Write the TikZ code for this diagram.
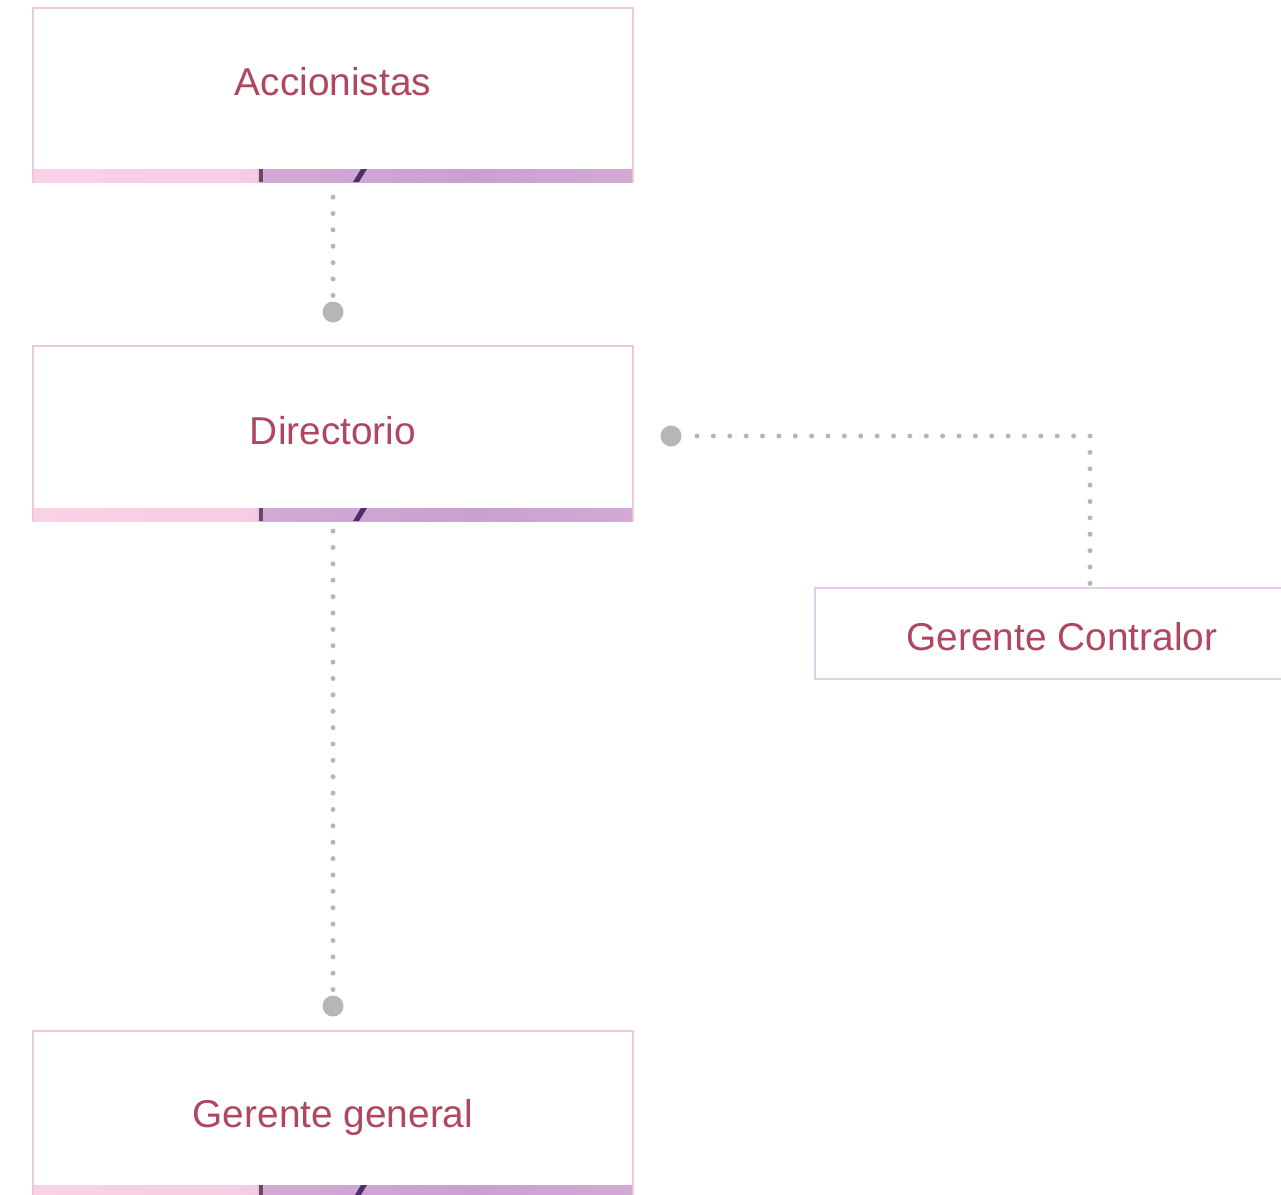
\documentclass[tikz,border=0pt]{standalone}
\usepackage{fontspec}
\setmainfont{Liberation Sans}
\definecolor{rosetext}{HTML}{B0475E}
\definecolor{boxedge}{HTML}{EACBD5}
\definecolor{lilacedge}{HTML}{E3CDE8}
\definecolor{dotgray}{HTML}{B4B7B6}
\definecolor{stripink}{HTML}{F9D2E6}
\definecolor{striplilac}{HTML}{C9A0D0}
\definecolor{stripdark}{HTML}{4A2E6E}
\pgfdeclarehorizontalshading{stripshade}{100bp}{color(0bp)=(stripink); color(25bp)=(stripink); color(43.5bp)=(stripink!90!striplilac); color(44.2bp)=(striplilac!80!stripink); color(62bp)=(striplilac); color(75bp)=(striplilac!80!stripink); color(100bp)=(striplilac!80!stripink)}

\begin{document}
\begin{tikzpicture}[x=1pt, y=-1pt,
    box/.style={draw=boxedge, line width=2.2pt, fill=white, minimum width=600pt, inner sep=0pt},
    title/.style={text=rosetext, anchor=base, font=\fontsize{38.8}{42}\selectfont},
    dotline/.style={dotgray, line width=5pt, line cap=round, dash pattern=on 0pt off 16.375pt},
    enddot/.style={circle, fill=dotgray, minimum size=21pt, inner sep=0pt}]
  \useasboundingbox (0,0) rectangle (1281,1194);

  \node[box, minimum height=174pt] (accbox) at (333,95) {};
  \node[box, minimum height=175pt] (dirbox) at (333,433.5) {};
  \node[box, minimum height=167pt] (genbox) at (333,1114.5) {};
  \node[box, draw=lilacedge, minimum width=495pt, minimum height=91pt] (ctrlbox) at (1062.5,633.5) {};

  % image strips along the bottom of the boxes
  \foreach \y in {169,508,1185} {
    \shade[shading=stripshade] (34,\y) rectangle (632,\y+13);
    \fill[stripdark!70!brown] (259,\y) rectangle (263,\y+13);
    \fill[stripdark] (361,\y) -- (367,\y) -- (359,\y+13) -- (353,\y+13) -- cycle;
  }

  \node[title] (acc) at (333,95) {Accionistas};
  \node[title] (dir) at (333,444) {Directorio};
  \node[title] (gen) at (333,1127) {Gerente general};
  \node[title] (ctrl) at (1062,650) {Gerente Contralor};

  \node[enddot] (dot1) at (333,312) {};
  \node[enddot] (dot2) at (333,1006) {};
  \node[enddot] (dot3) at (671,436) {};
  \coordinate (bend) at (1090,436);

  \draw[dotline] ([yshift=-14pt]accbox.south) -- (dot1.north);
  \draw[dotline] ([yshift=-9pt]dirbox.south) -- (dot2.north);
  \draw[dotline] ([xshift=26pt]dot3.center) -- (bend) -- (bend |- ctrlbox.north);

\end{tikzpicture}
\end{document}
